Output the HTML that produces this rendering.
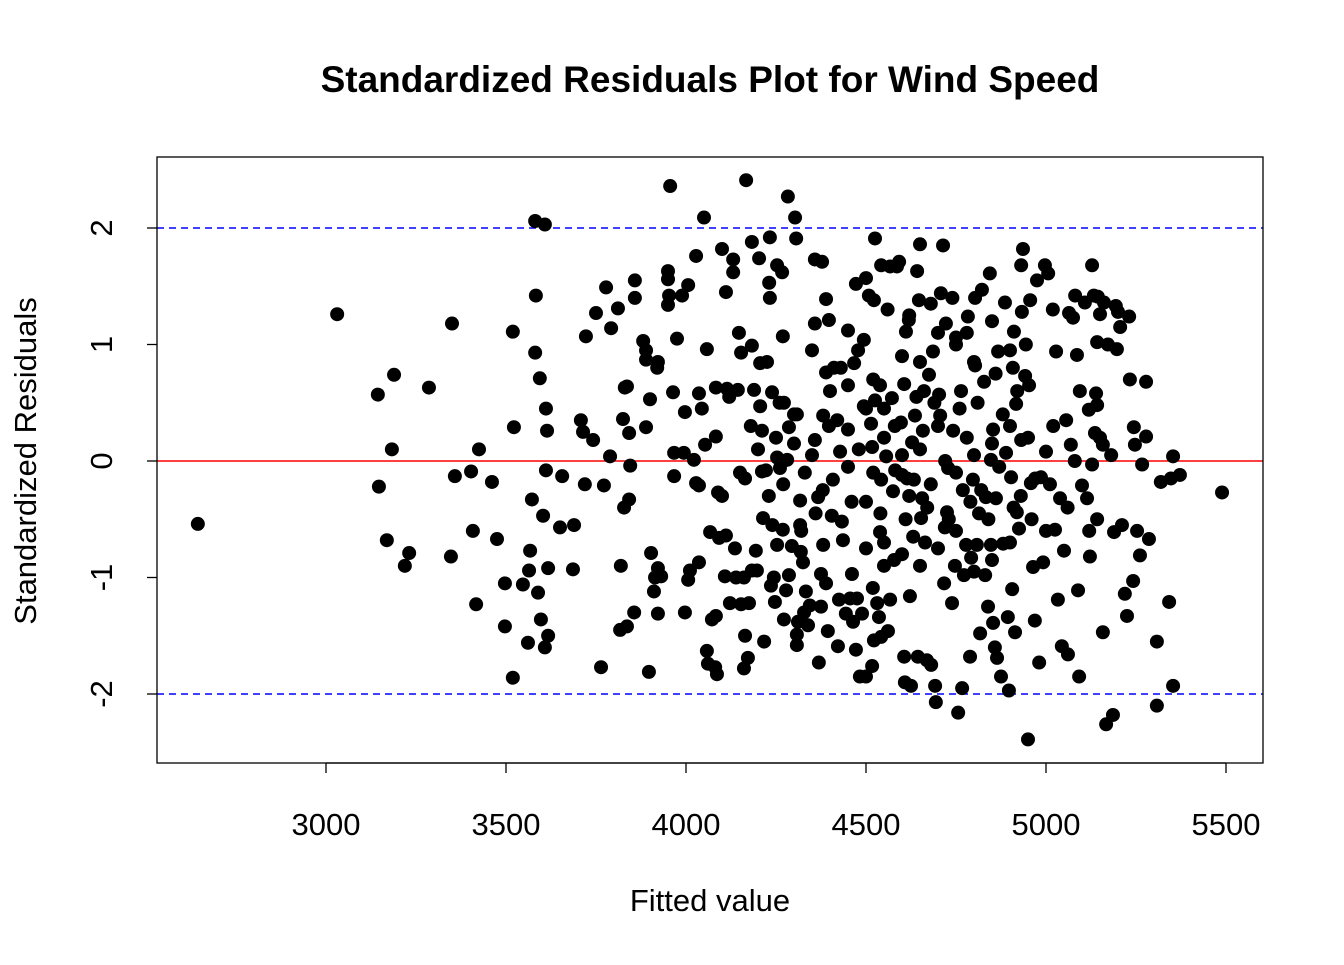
<!DOCTYPE html>
<html><head><meta charset="utf-8"><style>
body{margin:0;background:#fff;}
svg text{font-family:"Liberation Sans",Arial,sans-serif;}
</style></head><body>
<svg id="chart" width="1344" height="960" viewBox="0 0 1344 960">
<text x="710" y="92" text-anchor="middle" font-size="37" font-weight="bold">Standardized Residuals Plot for Wind Speed</text>
<text x="710" y="911" text-anchor="middle" font-size="31">Fitted value</text>
<text transform="translate(36,461) rotate(-90)" text-anchor="middle" font-size="31">Standardized Residuals</text>
<g id="ref"></g>
<g id="pts"></g>
<g id="ax"></g>
<rect x="157" y="157" width="1106" height="606" fill="none" stroke="#000" stroke-width="1.3"/>
</svg>
<script>
const xTicks=[3000,3500,4000,4500,5000,5500];
const yTicks=[-2,-1,0,1,2];
const fittedX=[2644,3031,3144,3189,3147,3183,3169,3231,3219,3286,3350,3358,3347,3403,3425,3408,3417,3461,3475,3497,3497,3519,3519,3522,3547,3564,3567,3561,3572,3581,3583,3581,3608,3594,3611,3614,3611,3603,3589,3597,3608,3617,3617,3656,3650,3689,3686,3708,3714,3722,3719,3742,3750,3764,3772,3778,3792,3789,3811,3825,3830,3836,3819,3817,3828,3836,3842,3845,3842,3856,3858,3858,3881,3889,3889,3900,3889,3897,3903,3914,3911,3922,3920,3922,3931,3922,3950,3950,3956,3950,3953,3964,3967,3967,3975,3989,3997,3994,3997,4006,4006,4011,4022,4028,4028,4036,4036,4036,4044,4050,4053,4058,4058,4061,4067,4072,4081,4083,4086,4083,4083,4089,4092,4100,4108,4111,4111,4114,4122,4131,4131,4136,4139,4144,4147,4153,4153,4161,4161,4164,4164,4167,4172,4175,4183,4183,4183,4189,4194,4197,4203,4206,4206,4211,4211,4214,4217,4222,4225,4231,4233,4233,4236,4239,4244,4247,4253,4253,4253,4261,4267,4269,4269,4272,4272,4278,4281,4283,4286,4286,4294,4303,4306,4308,4308,4308,4311,4317,4317,4319,4325,4333,4328,4339,4344,4350,4358,4358,4358,4367,4369,4375,4375,4378,4381,4381,4389,4389,4389,4394,4397,4397,4405,4408,4411,4422,4425,4428,4433,4436,4444,4450,4450,4456,4461,4464,4467,4472,4472,4475,4478,4483,4489,4494,4494,4500,4500,4500,4508,4514,4517,4517,4519,4522,4522,4525,4525,4531,4536,4539,4539,4542,4542,4542,4550,4550,4556,4561,4567,4567,4572,4575,4578,4581,4586,4592,4597,4600,4606,4606,4608,4614,4611,4619,4622,4625,4628,4631,4633,4636,4642,4644,4647,4650,4653,4656,4658,4661,4664,4669,4675,4681,4686,4692,4694,4703,4706,4708,4714,4717,4719,4722,4725,4728,4739,4742,4747,4750,4756,4764,4767,4769,4772,4778,4783,4789,4792,4797,4803,4803,4808,4814,4817,4822,4828,4831,4833,4839,4844,4847,4847,4853,4853,4858,4861,4864,4867,4875,4881,4886,4889,4894,4897,4903,4906,4908,4911,4914,4917,4919,4925,4931,4931,4933,4936,4942,4944,4950,4953,4956,4958,4964,4969,4975,4981,4986,4992,4997,5000,5006,5011,5019,5025,5028,5033,5039,5044,5050,5056,5061,5064,5069,5075,5081,5086,5089,5092,5094,5100,5108,5114,5119,5122,5128,5128,5133,5136,5139,5142,5142,5142,5144,5150,5158,5158,5161,5167,5172,5181,5186,5189,5194,5197,5200,5206,5211,5219,5225,5231,5233,5242,5244,5247,5253,5261,5267,5278,5278,5286,5308,5308,5319,5342,5347,5353,5353,5372,5489,
4450,4480,4520,4550,4600,4620,4650,4680,4700,4720,4750,4780,4800,4820,4850,4870,4900,4930,4420,4460,4500,4540,4580,4610,4640,4670,4690,4730,4760,4790,4810,4840,4880,4910,4950,4970,4380,4350,4330,4300,4270,4250,4230,4400,4430,4600,4650,4700,4750,4800,4850,4900,4600,4650,4700,4750,4800,4850,4900,4550,4500,4450,4520,4560,4620,4680,4740,4780,4860,4920,4960,5000,5020,5060,5080,5120,5150,4300,4320,4360,4260,4240,4200,4180,4150,4120,4100];
const residY=[-0.54,1.26,0.57,0.74,-0.22,0.10,-0.68,-0.79,-0.90,0.63,1.18,-0.13,-0.82,-0.09,0.10,-0.60,-1.23,-0.18,-0.67,-1.05,-1.42,-1.86,1.11,0.29,-1.06,-0.94,-0.77,-1.56,-0.33,0.93,1.42,2.06,2.03,0.71,0.45,0.26,-0.08,-0.47,-1.13,-1.36,-1.60,-1.50,-0.92,-0.13,-0.57,-0.55,-0.93,0.35,0.25,1.07,-0.20,0.18,1.27,-1.77,-0.21,1.49,1.14,0.04,1.31,0.36,0.63,0.64,-0.90,-1.45,-0.40,-1.42,0.24,-0.04,-0.33,-1.30,1.55,1.40,1.03,0.95,0.87,0.53,0.29,-1.81,-0.79,-1.0,-1.12,0.85,0.80,-0.92,-0.99,-1.31,1.34,1.63,2.36,1.56,1.42,0.59,0.07,-0.13,1.05,1.42,0.42,0.07,-1.30,1.51,-1.02,-0.94,0.01,-0.19,1.76,0.58,-0.21,-0.87,0.45,2.09,0.14,0.96,-1.63,-1.74,-0.61,-1.36,-1.77,0.21,-1.83,0.63,-1.33,-0.27,-0.66,1.82,-0.99,1.45,-0.64,0.62,-1.22,1.73,1.62,-0.75,-1.0,0.61,1.10,0.93,-1.23,-1.0,-1.78,-0.15,-1.50,2.41,-1.69,-1.22,1.88,0.99,-0.94,0.61,-0.77,-0.94,1.74,0.84,0.47,0.26,-0.09,-0.49,-1.55,-0.08,0.85,1.53,1.40,1.92,-1.07,0.59,-1.0,-1.21,1.68,0.03,-0.72,-0.06,1.62,1.07,-0.59,0.50,-1.36,-1.11,0.01,2.27,0.29,-0.98,-0.73,2.09,1.91,0.40,-1.49,-1.58,-1.38,-0.34,-0.55,-0.78,-0.87,-1.12,-1.30,-1.41,-1.24,0.95,0.18,1.18,1.73,-0.31,-1.73,-1.25,-0.97,1.71,0.39,-0.72,0.76,-1.05,1.39,-1.46,1.21,0.30,-0.47,-0.16,0.80,-1.59,-1.19,0.08,-0.52,-0.68,-1.31,1.12,0.27,-1.18,-0.97,-1.38,0.84,1.52,-1.62,-1.18,0.95,-1.85,-1.31,1.04,0.47,-0.35,1.57,-1.85,1.42,0.32,0.12,-1.76,-1.09,1.38,-1.54,1.91,0.52,-1.22,-1.34,-0.61,0.65,1.68,-0.16,-1.51,-0.70,0.45,0.04,-1.46,-1.19,1.67,0.54,-0.26,-0.85,-0.08,1.67,1.71,0.33,-0.12,0.66,-1.68,-1.90,-0.15,1.11,1.21,-1.16,-1.93,0.16,-0.65,-0.16,0.39,1.63,-1.68,1.38,1.86,-0.49,-0.32,0.26,0.60,-0.70,-1.71,0.74,-1.75,0.94,-1.93,-2.07,0.57,0.39,1.44,1.85,-1.05,-0.57,1.18,-0.44,-0.06,-1.22,0.26,-0.90,1.06,-2.16,0.60,-1.95,-0.25,-0.98,-0.72,1.24,-1.68,-0.83,-0.16,1.40,0.82,-0.72,-0.45,-1.48,1.47,0.68,-0.98,-0.31,-1.25,1.61,0.01,-0.72,0.27,-1.39,-1.60,-0.32,-1.69,0.94,-1.85,-0.71,1.36,0.07,-1.34,-1.97,-0.14,-1.10,0.80,1.11,-1.47,0.49,-0.44,-0.58,1.68,0.18,1.28,1.82,0.73,1.00,-2.39,0.65,1.38,-0.19,-0.91,-1.37,1.55,-1.73,-0.14,-0.87,1.68,0.08,1.61,-0.20,1.30,-0.59,0.94,-1.19,-0.32,-1.59,-0.77,0.35,-1.66,1.27,0.14,1.23,1.42,0.91,-1.11,-1.85,0.60,-0.21,1.36,-0.32,0.44,-0.82,1.68,-0.03,1.42,0.24,0.58,1.02,0.48,-0.50,1.41,1.26,-1.47,0.14,1.36,-2.26,1.00,0.05,-2.18,-0.61,1.33,0.96,1.28,1.15,-0.55,-1.14,-1.33,1.24,0.70,-1.03,0.29,0.14,-0.60,-0.81,-0.03,0.68,0.21,-0.67,-1.55,-2.10,-0.18,-1.21,-0.15,0.04,-1.93,-0.12,-0.27,
-0.05,0.1,-0.1,0.2,0.05,-0.3,0.1,-0.2,0.3,0.0,-0.1,0.2,0.05,-0.25,0.15,-0.05,0.3,-0.3,0.35,-0.35,0.45,-0.45,0.3,-0.5,0.55,-0.4,0.5,-0.5,0.45,-0.35,0.5,-0.5,0.4,-0.4,0.2,-0.15,-0.25,0.05,-0.1,0.15,-0.2,0.2,-0.3,0.6,0.8,0.9,0.85,1.1,1.0,0.85,1.2,0.95,-0.8,-0.9,-0.75,-0.6,-0.95,-0.85,-0.7,-0.9,-0.75,0.65,0.7,1.3,1.25,1.35,1.4,1.1,0.75,0.6,-0.5,-0.6,0.3,-0.4,0.0,-0.6,0.2,0.4,-0.6,-0.45,0.5,-0.55,0.1,0.3,-0.1,0.55,-0.3];
const NS='http://www.w3.org/2000/svg';
const sx=v=>326+(v-3000)*0.36;
const sy=v=>461-v*116.5;
function mk(tag,attrs,parent){const e=document.createElementNS(NS,tag);for(const k in attrs)e.setAttribute(k,attrs[k]);parent.appendChild(e);return e;}
const ref=document.getElementById('ref'),pts=document.getElementById('pts'),ax=document.getElementById('ax');
[2,-2].forEach(v=>{const l=mk('line',{x1:157,x2:1263,y1:sy(v),y2:sy(v),stroke:'#0000ff','stroke-width':1.4,'stroke-dasharray':'7,5'},ref);

});
const z=mk('line',{x1:157,x2:1263,y1:sy(0),y2:sy(0),stroke:'#ff0000','stroke-width':1.6},ref);


for(let i=0;i<fittedX.length;i++){const c=mk('circle',{cx:sx(fittedX[i]),cy:sy(residY[i]),r:7,fill:'#000'},pts);

}
mk('line',{x1:sx(xTicks[0]),x2:sx(xTicks[xTicks.length-1]),y1:763,y2:763,stroke:'#000','stroke-width':1.3},ax);
xTicks.forEach(t=>{mk('line',{x1:sx(t),x2:sx(t),y1:763,y2:773,stroke:'#000','stroke-width':1.3},ax);
const tx=mk('text',{x:sx(t),y:835,'text-anchor':'middle','font-size':31},ax);tx.textContent=t;

});
yTicks.forEach(t=>{mk('line',{x1:147,x2:157,y1:sy(t),y2:sy(t),stroke:'#000','stroke-width':1.3},ax);
const tx=mk('text',{transform:'translate(112,'+sy(t)+') rotate(-90)','text-anchor':'middle','font-size':31},ax);tx.textContent=(t<0?'-'+Math.abs(t):t);

});
</script>
</body></html>
